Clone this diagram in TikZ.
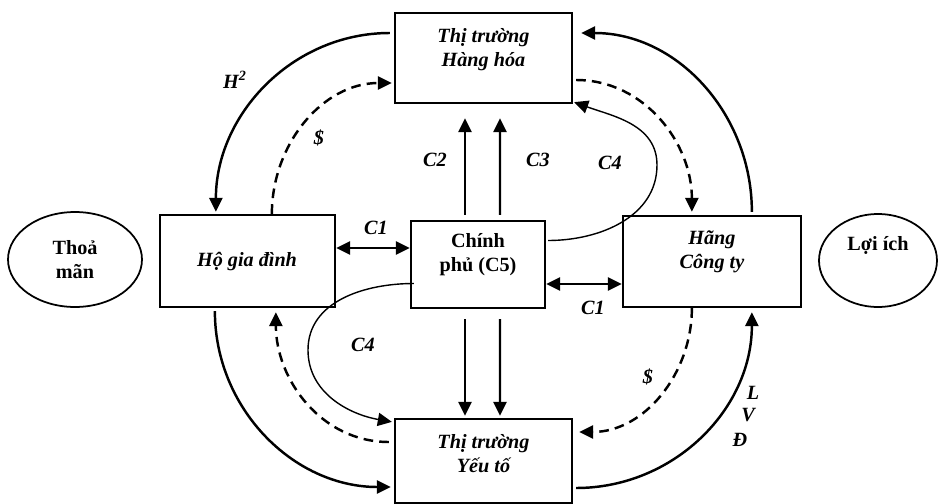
\documentclass[tikz,border=0pt]{standalone}
\usepackage{fontspec}
\setmainfont{Liberation Serif}
\usetikzlibrary{arrows.meta,calc,shapes.geometric}
\begin{document}
\begin{tikzpicture}[x=0.02cm,y=-0.02cm,
  box/.style={draw,line width=1.3pt,inner sep=0pt},
  oval/.style={draw,ellipse,line width=1pt,inner sep=0pt},
  txt/.style={font=\fontsize{11.5}{13.6}\selectfont\bfseries\itshape,align=center,inner sep=0pt},
  rtxt/.style={font=\fontsize{11.5}{13.6}\selectfont\bfseries,align=center,inner sep=0pt},
  lbl/.style={font=\fontsize{11.5}{13.6}\selectfont\bfseries\itshape,inner sep=0pt},
  tip/.style={-{Triangle[length=8pt,width=7.5pt]}},
  dtip/.style={{Triangle[length=8pt,width=7.5pt]}-{Triangle[length=8pt,width=7.5pt]}},
  flow/.style={line width=1.4pt},
  dflow/.style={line width=1.4pt,dash pattern=on 5.5pt off 3.5pt},
  thin/.style={line width=0.8pt}
]
\useasboundingbox (0,0) rectangle (941,504);

% boxes
\node[box,minimum width=3.54cm,minimum height=1.8cm] (tm) at (483.5,58) {};
\node[box,minimum width=3.5cm,minimum height=1.84cm] (hh) at (247.5,261) {};
\node[box,minimum width=2.68cm,minimum height=1.74cm] (cp) at (478,264.5) {};
\node[box,minimum width=3.56cm,minimum height=1.82cm] (hc) at (712,261.5) {};
\node[box,minimum width=3.54cm,minimum height=1.68cm] (yt) at (483.5,461) {};
\node[oval,minimum width=2.68cm,minimum height=1.9cm] (tmo) at (75,259.5) {};
\node[oval,minimum width=2.36cm,minimum height=1.86cm] (lio) at (878,260.5) {};

% texts
\node[txt] (tmt) at (483.5,50) {Thị trường\\Hàng hóa};
\node[txt] (hht) at (247,262) {Hộ gia đình};
\node[rtxt] (cpt) at (478,255) {Chính\\phủ (C5)};
\node[txt] (hct) at (712,252) {Hãng\\Công ty};
\node[txt] (ytt) at (483.5,454) {Thị trường\\Yếu tố};
\node[rtxt] (tmn) at (75,260) {Thoả\\mãn};
\node[rtxt] (lit) at (878,245) {Lợi ích};

% labels
\node[lbl] (lH) at (235,80) {H\textsuperscript{2}};
\node[lbl] (lD1) at (319,138) {\$};
\node[lbl] (lC2) at (435,160) {C2};
\node[lbl] (lC3) at (538,160) {C3};
\node[lbl] (lC4a) at (610,163) {C4};
\node[lbl] (lC1a) at (376,228) {C1};
\node[lbl] (lC1b) at (593,308) {C1};
\node[lbl] (lC4b) at (363,345) {C4};
\node[lbl] (lD2) at (648,377) {\$};
\node[lbl] (lL) at (753,393) {L};
\node[lbl] (lV) at (748,415) {V};
\node[lbl] (lDD) at (740,440) {Đ};

% upper left
\draw[flow,tip] ($(tm.west)+(-4,-25)$) to[out=180,in=90] ($(hh.north west)+(57,-2)$);
\draw[dflow,tip] ($(hh.north west)+(113,0)$) to[out=90,in=180] ($(tm.west)+(-2,25)$);
% upper right
\draw[flow,tip] ($(hc.north west)+(130,-3)$) to[out=90,in=0] ($(tm.east)+(8,-25)$);
\draw[dflow,tip] ($(tm.east)+(3,22)$) to[out=0,in=90] ($(hc.north west)+(70,-3)$);
% lower left
\draw[flow,tip] ($(hh.south west)+(56,3)$) to[out=-90,in=180] ($(yt.west)+(-3,26)$);
\draw[dflow,tip] ($(yt.west)+(-5,-19)$) to[out=180,in=-90] ($(hh.south west)+(117,4)$);
% lower right
\draw[dflow,tip] ($(hc.south west)+(70,0)$) to[out=-90,in=0] ($(yt.east)+(6,-29)$);
\draw[flow,tip] ($(yt.east)+(3,27)$) to[out=0,in=-90] ($(hc.south west)+(130,4)$);

% government arrows
\draw[flow,tip] ($(cp.north)+(-13,-5)$) -- ($(tm.south)+(-18.5,14)$);
\draw[flow,tip] ($(cp.north)+(22,-5)$) -- ($(tm.south)+(16.5,14)$);
\draw[flow,tip] ($(cp.south)+(-13,10)$) -- ($(yt.north)+(-18.5,-2)$);
\draw[flow,tip] ($(cp.south)+(22,10)$) -- ($(yt.north)+(16.5,-2)$);

% C1
\draw[flow,dtip] ($(hh.east)+(0,-13)$) coordinate (c1a) -- (c1a -| cp.west);
\draw[flow,dtip] ($(hc.west)+(0,22.5)$) coordinate (c1b) -- (c1b -| cp.east);

% C4 loops
\coordinate (c4a) at (657,165);
\coordinate (c4b) at (308,350);
\draw[thin,tip] ($(cp.east)+(2,-24)$) to[out=0,in=-90] (c4a) to[out=90,in=-20] ($(tm.south east)+(1,-2)$);
\draw[thin,tip] ($(cp.west)+(4,19)$) to[out=180,in=90] (c4b) to[out=-90,in=170] ($(yt.north west)+(-2,4)$);
\end{tikzpicture}
\end{document}
